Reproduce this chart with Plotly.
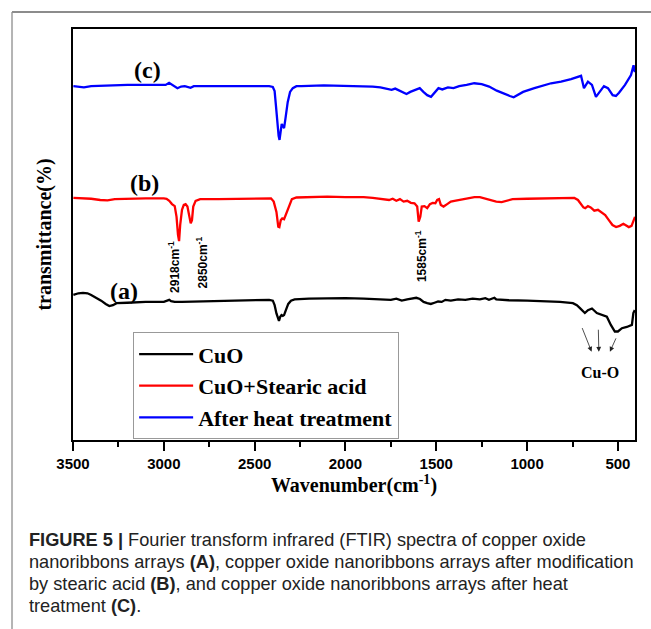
import plotly.graph_objects as go

# ---------------- data ----------------
series_names = ["CuO", "CuO+Stearic acid", "After heat treatment"]
series_colors = ["#000000", "#ff0000", "#0000ff"]

# (a) CuO
wn_a = [3498, 3470, 3445, 3420, 3400, 3370, 3345, 3320, 3300, 3280, 3260, 3200, 3100, 3000,
        2970, 2960, 2940, 2900, 2800, 2700, 2600, 2500, 2420, 2400, 2390, 2380, 2372, 2366,
        2360, 2352, 2345, 2338, 2328, 2315, 2300, 2280, 2200, 2100, 2000, 1900, 1800, 1750,
        1720, 1690, 1660, 1630, 1610, 1590, 1570, 1550, 1530, 1510, 1490, 1470, 1450, 1420,
        1380, 1340, 1300, 1260, 1230, 1210, 1190, 1180, 1170, 1140, 1100, 1000, 900, 850,
        819, 748, 726, 709, 682, 665, 643, 616, 588, 561, 539, 517, 500, 478, 451, 423, 415, 407]
t_a = [35.3, 35.7, 35.8, 35.7, 35.3, 34.6, 33.9, 33.1, 32.6, 32.8, 33.3, 33.4, 33.6, 33.6,
       34.1, 33.8, 33.6, 33.6, 33.7, 33.8, 33.9, 34.0, 34.1, 33.9, 32.8, 30.8, 29.4, 29.0,
       29.9, 30.4, 30.2, 30.4, 31.6, 33.1, 33.9, 34.2, 34.4, 34.5, 34.5, 34.4, 34.3, 34.1,
       34.4, 33.9, 34.2, 34.5, 34.6, 34.3, 33.6, 33.3, 33.1, 33.4, 33.7, 33.6, 34.1, 33.9,
       34.2, 34.1, 34.4, 34.2, 34.5, 34.1, 34.4, 34.6, 34.2, 34.1, 34.0, 33.9, 33.8, 33.6,
       33.6, 33.3, 32.8, 32.1, 30.9, 31.6, 32.0, 30.9, 30.4, 30.0, 28.0, 26.4, 26.4, 27.2, 27.5, 28.0, 30.9, 31.6]

# (b) CuO + stearic acid
wn_b = [3498, 3450, 3400, 3350, 3310, 3270, 3200, 3100, 3000, 2985, 2970, 2955, 2940, 2930,
        2922, 2916, 2910, 2900, 2890, 2880, 2870, 2860, 2852, 2845, 2838, 2825, 2800, 2700,
        2500, 2410, 2395, 2380, 2370, 2364, 2356, 2348, 2338, 2325, 2310, 2295, 2270, 2200,
        2100, 2000, 1900, 1850, 1800, 1760, 1740, 1720, 1700, 1680, 1660, 1640, 1620, 1605,
        1597, 1588, 1580, 1565, 1550, 1535, 1520, 1505, 1495, 1485, 1475, 1460, 1440, 1420,
        1400, 1370, 1330, 1290, 1260, 1230, 1200, 1170, 1140, 1110, 1080, 1000, 900, 800,
        740, 720, 705, 690, 680, 665, 650, 630, 610, 590, 570, 550, 530, 510, 490, 470,
        455, 440, 425, 415, 406]
t_b = [58.9, 58.8, 58.7, 58.4, 58.3, 58.6, 58.7, 58.8, 58.8, 58.7, 58.2, 57.4, 56.9, 54.3,
       49.9, 48.4, 52.3, 56.0, 57.2, 57.4, 56.8, 54.7, 52.7, 53.5, 56.8, 58.2, 58.6, 58.6,
       58.7, 58.8, 58.0, 55.5, 51.9, 51.8, 53.5, 53.9, 53.7, 55.2, 57.2, 58.6, 59.0, 59.1,
       59.2, 59.1, 59.1, 58.9, 58.7, 58.4, 58.7, 58.2, 58.6, 58.0, 58.2, 57.7, 57.6, 56.8,
       53.1, 54.3, 56.8, 56.9, 56.4, 57.4, 57.7, 57.6, 58.4, 58.6, 57.2, 56.8, 57.4, 58.0,
       58.2, 58.4, 58.8, 59.1, 59.1, 58.7, 58.4, 58.0, 57.9, 58.2, 58.6, 58.7, 58.8, 58.9,
       58.9, 58.4, 57.4, 56.6, 56.4, 56.9, 56.6, 55.8, 56.0, 55.3, 54.7, 53.5, 52.3, 51.8, 52.1, 52.6,
       52.1, 51.8, 52.1, 53.5, 54.3]

# (c) after heat treatment
wn_c = [3498, 3470, 3440, 3400, 3300, 3200, 3100, 2990, 2971, 2955, 2940, 2925, 2905, 2885,
        2870, 2853, 2835, 2800, 2600, 2420, 2400, 2390, 2383, 2376, 2368, 2363, 2357, 2351,
        2345, 2338, 2330, 2318, 2305, 2290, 2270, 2243, 2119, 2015, 1912, 1850, 1808, 1767,
        1746, 1726, 1705, 1684, 1664, 1643, 1622, 1591, 1571, 1550, 1529, 1509, 1488, 1467,
        1436, 1405, 1374, 1333, 1291, 1250, 1209, 1167, 1126, 1095, 1074, 1053, 1022, 960,
        868, 813, 758, 703, 687, 665, 643, 621, 599, 577, 555, 529, 511, 494, 461, 428, 414, 407]
t_c = [86.1, 86.0, 85.8, 86.1, 86.3, 86.4, 86.4, 86.4, 86.9, 86.4, 86.0, 85.6, 86.0, 86.1,
       85.9, 85.7, 86.1, 86.1, 86.1, 86.1, 85.9, 84.9, 81.5, 77.4, 74.0, 73.0, 74.9, 76.9,
       76.4, 75.9, 78.3, 82.2, 84.7, 85.6, 86.1, 86.1, 86.3, 86.2, 86.1, 86.0, 85.8, 85.5,
       85.2, 85.5, 85.0, 84.7, 84.2, 84.7, 85.0, 85.6, 84.7, 83.9, 83.5, 84.4, 85.6, 85.3,
       85.8, 85.6, 86.1, 86.4, 86.8, 86.6, 86.0, 85.0, 84.2, 83.7, 83.4, 83.9, 84.7, 85.6,
       86.8, 87.2, 87.8, 88.6, 85.6, 87.2, 86.4, 83.5, 84.7, 86.1, 85.6, 83.9, 83.7, 84.5, 86.4, 88.8, 91.2, 89.5]

x_ticks = [3500, 3000, 2500, 2000, 1500, 1000, 500]
x_tick_labels = ["3500", "3000", "2500", "2000", "1500", "1000", "500"]

curve_labels = ["(a)", "(b)", "(c)"]
curve_label_x = [3221, 3106, 3089]
curve_label_y = [36.3, 62.5, 90.0]

peak_labels = ["2918cm<sup>-1</sup>", "2850cm<sup>-1</sup>", "1585cm<sup>-1</sup>"]
peak_label_x = [2941, 2792, 1583]
peak_label_y = [42.0, 43.1, 44.8]

cuo_arrow_tail_x = [700, 608, 507]
cuo_arrow_tail_y = [27.6, 27.2, 25.1]
cuo_arrow_head_x = [645, 605, 544]
cuo_arrow_head_y = [21.5, 21.5, 21.5]

caption_lines = [
    "<b>FIGURE 5 |</b> Fourier transform infrared (FTIR) spectra of copper oxide",
    "nanoribbons arrays <b>(A)</b>, copper oxide nanoribbons arrays after modification",
    "by stearic acid <b>(B)</b>, and copper oxide nanoribbons arrays after heat",
    "treatment <b>(C)</b>.",
]

# ---------------- figure ----------------
SERIF = "Liberation Serif"
SANS = "Liberation Sans"

fig = go.Figure()
for wn, t, name, col in zip([wn_a, wn_b, wn_c], [t_a, t_b, t_c], series_names, series_colors):
    fig.add_trace(go.Scatter(x=wn, y=t, mode="lines", name=name,
                             line=dict(color=col, width=2.3)))

annotations = []
for txt, x, y in zip(curve_labels, curve_label_x, curve_label_y):
    annotations.append(dict(x=x, y=y, xref="x", yref="y", text="<b>%s</b>" % txt, showarrow=False,
                            font=dict(family=SERIF, size=24, color="black")))
for txt, x, y in zip(peak_labels, peak_label_x, peak_label_y):
    annotations.append(dict(x=x, y=y, xref="x", yref="y", text="<b>%s</b>" % txt, showarrow=False,
                            textangle=-90, font=dict(family=SANS, size=12, color="black")))
for tx, ty, hx, hy in zip(cuo_arrow_tail_x, cuo_arrow_tail_y, cuo_arrow_head_x, cuo_arrow_head_y):
    annotations.append(dict(x=hx, y=hy, xref="x", yref="y", ax=tx, ay=ty, axref="x", ayref="y",
                            text="", showarrow=True, arrowhead=2, arrowsize=1.2, arrowwidth=0.8,
                            arrowcolor="#222"))
annotations.append(dict(x=600, y=16.5, xref="x", yref="y", text="<b>Cu-O</b>", showarrow=False,
                        font=dict(family=SERIF, size=16, color="black")))

cap_y = [-0.2426, -0.2964, -0.3501, -0.4039]
for txt, y in zip(caption_lines, cap_y):
    annotations.append(dict(x=-0.0815, y=y, xref="paper", yref="paper", text=txt, showarrow=False,
                            xanchor="left", yanchor="middle",
                            font=dict(family=SANS, size=18.2, color="#222222")))

shapes = [
    dict(type="line", xref="paper", yref="paper", x0=-0.1085, x1=-0.1085, y0=1.0414, y1=-0.47,
         line=dict(color="#b4b4b4", width=2)),
    dict(type="line", xref="paper", yref="paper", x0=-0.1085, x1=1.05, y0=1.0414, y1=1.0414,
         line=dict(color="#8c8c8c", width=2)),
]

fig.update_layout(
    width=651, height=629,
    margin=dict(l=73, r=16, t=29, b=189),
    paper_bgcolor="white", plot_bgcolor="white",
    showlegend=True,
    legend=dict(x=0.107, y=0.262, xanchor="left", yanchor="top",
                bgcolor="white", bordercolor="#999999", borderwidth=1,
                font=dict(family=SERIF, size=22, color="black", weight="bold"),
                itemwidth=54, tracegroupgap=0),
    annotations=annotations,
    shapes=shapes,
)
fig.update_xaxes(
    range=[3500, 406], tickvals=x_ticks, ticktext=x_tick_labels,
    ticks="outside", ticklen=9, tickwidth=2, tickcolor="black",
    minor=dict(dtick=250, tick0=500, ticks="outside", ticklen=5, tickwidth=1.5, tickcolor="black"),
    showline=True, linecolor="black", linewidth=1.5, mirror=True,
    showgrid=False, zeroline=False,
    tickfont=dict(family=SANS, size=15, color="black", weight="bold"),
    title=dict(text="Wavenumber(cm<sup>-1</sup>)", standoff=6,
               font=dict(family=SERIF, size=20, color="black", weight="bold")),
)
fig.update_yaxes(
    range=[0, 100], showticklabels=False, ticks="",
    showline=True, linecolor="black", linewidth=1.5, mirror=True,
    showgrid=False, zeroline=False,
    title=dict(text="transmittance(%)", standoff=14,
               font=dict(family=SERIF, size=20, color="black", weight="bold")),
)

fig.write_html("out.html")
